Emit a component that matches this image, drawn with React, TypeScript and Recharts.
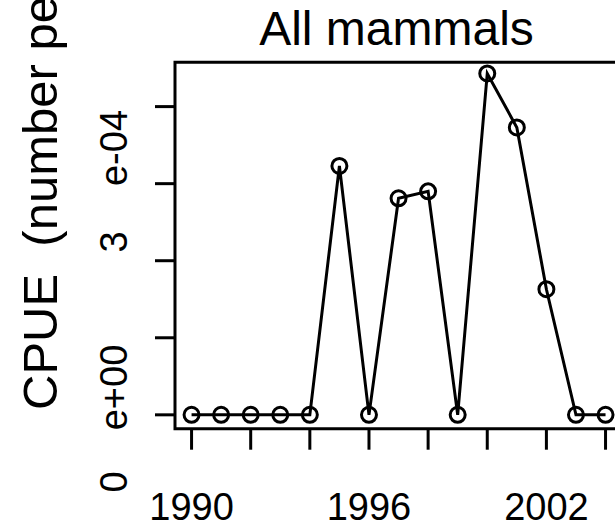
import React from 'react';
import { LineChart, Line, XAxis, YAxis, ReferenceArea } from 'recharts';

const years = [1990, 1991, 1992, 1993, 1994, 1995, 1996, 1997, 1998, 1999, 2000, 2001, 2002, 2003, 2004];
const cpue = [0, 0, 0, 0, 0, 0.000323, 0, 0.000281, 0.00029, 0, 0.000443, 0.000373, 0.000163, 0, 0];
const xTicks = [1990, 1992, 1994, 1996, 1998, 2000, 2002, 2004];
const xTickLabels = [1990, 1996, 2002];
const yTicks = [0, 0.0001, 0.0002, 0.0003, 0.0004];
const chartTitle = 'All mammals';
const yTitle = 'CPUE  (number pe';

const data = years.map((year, i) => ({ year, cpue: cpue[i] }));

const FONT = '"Liberation Sans", Arial, sans-serif';
const X_DOMAIN = [1989.44, 2004.56];
const Y_DOMAIN = [-0.000018, 0.0004575];

const XTick = (props: any) => {
  const { x, y, payload } = props;
  if (!xTickLabels.includes(payload.value)) return <g />;
  return (
    <text x={x} y={y} dy={70} textAnchor="middle" fontSize={38} fontFamily={FONT} fill="#000">
      {payload.value}
    </text>
  );
};

const vText = (x: number, y: number, s: string, size: number, anchor: 'start' | 'middle') => (
  <text
    x={x}
    y={y}
    transform={`rotate(-90 ${x} ${y})`}
    textAnchor={anchor}
    fontSize={size}
    fontFamily={FONT}
    fill="#000"
    style={{ whiteSpace: 'pre' }}
  >
    {s}
  </text>
);

export default function App() {
  return (
    <div style={{ position: 'fixed', left: 0, top: 0, width: 615, height: 525, overflow: 'hidden', background: '#fff' }}>
      <LineChart width={640} height={525} data={data} margin={{ top: 62.3, right: 17.9, left: 155, bottom: 75.3 }}>
        <XAxis
          dataKey="year"
          type="number"
          domain={X_DOMAIN}
          ticks={xTicks}
          interval={0}
          height={21}
          tickSize={21}
          tickMargin={0}
          axisLine={false}
          tickLine={{ stroke: '#000', strokeWidth: 3 }}
          tick={XTick}
          allowDataOverflow
        />
        <YAxis
          type="number"
          domain={Y_DOMAIN}
          ticks={yTicks}
          width={20}
          tickSize={20}
          axisLine={false}
          tickLine={{ stroke: '#000', strokeWidth: 3 }}
          tick={() => <g />}
          allowDataOverflow
        />
        <ReferenceArea
          x1={X_DOMAIN[0]}
          x2={X_DOMAIN[1]}
          y1={Y_DOMAIN[0]}
          y2={Y_DOMAIN[1]}
          fill="none"
          fillOpacity={0}
          stroke="#000"
          strokeWidth={3}
          ifOverflow="visible"
        />
        <Line
          type="linear"
          dataKey="cpue"
          stroke="#000"
          strokeWidth={3}
          dot={{ r: 7.5, stroke: '#000', strokeWidth: 3, fill: 'none' }}
          activeDot={false}
          isAnimationActive={false}
        />
        <text x={396.5} y={45} textAnchor="middle" fontSize={48} fontFamily={FONT} fill="#000">
          {chartTitle}
        </text>
        {vText(57, 410, yTitle, 49, 'start')}
        {vText(127, 148, 'e-04', 38, 'middle')}
        {vText(127, 242, '3', 38, 'middle')}
        {vText(127, 387.5, 'e+00', 38, 'middle')}
        {vText(127, 482, '0', 38, 'middle')}
      </LineChart>
    </div>
  );
}
